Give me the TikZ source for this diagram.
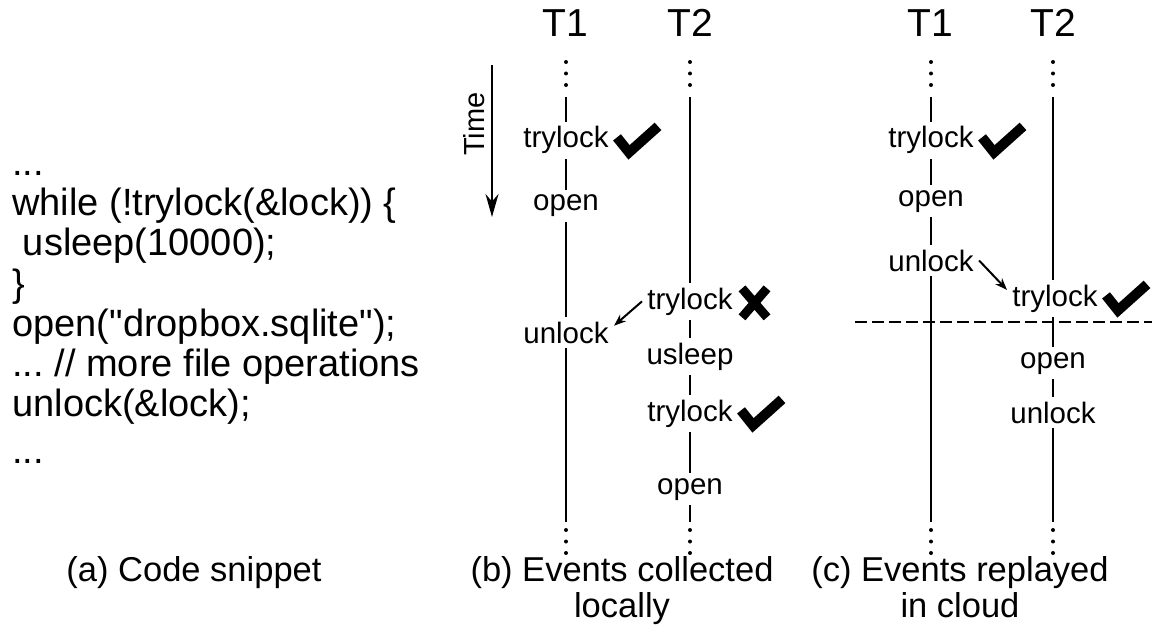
\documentclass[tikz,border=0pt]{standalone}
\usepackage{fontspec}
\setmainfont{Liberation Sans}
\usetikzlibrary{arrows.meta,positioning}

\begin{document}
\frenchspacing
\begin{tikzpicture}[
  x=0.5pt, y=-0.5pt,
  code/.style={font=\fontsize{19}{22}\selectfont, anchor=base west, inner sep=0pt},
  thread/.style={font=\fontsize{19.5}{22}\selectfont, anchor=base, inner sep=0pt},
  event/.style={font=\fontsize{14.75}{17}\selectfont, anchor=base, fill=white, inner sep=2.5pt},
  caption/.style={font=\fontsize{17.25}{18}\selectfont, align=center, anchor=base, inner sep=0pt},
  life/.style={line width=1pt},
  hint/.style={line width=1pt, -{Stealth[length=6pt,width=4.5pt]}},
  okmark/.pic={\draw[line width=5pt, line join=miter] (3,-3) -- (15,12) -- (44,-14);},
  nomark/.pic={\draw[line width=4.5pt] (4,-13) -- (29,16) (29,-13) -- (4,16);}]

  \useasboundingbox (0,0) rectangle (1155,636);

  % (a) code
  \node[code] (c1) at (12,176) {...};
  \node[code] (c2) at (12,216) {while (!trylock(\&lock)) \{};
  \node[code] (c3) at (12,256) {\hspace{5.25pt}usleep(10000);};
  \node[code] (c4) at (12,296) {\}};
  \node[code] (c5) at (12,336) {open(\textquotedbl dropbox.sqlite\textquotedbl);};
  \node[code] (c6) at (12,376) {... // more file operations};
  \node[code] (c7) at (12,416) {unlock(\&lock);};
  \node[code] (c8) at (12,463) {...};

  % life lines with dots
  \foreach \x in {566,690,931,1053} {
    \draw[life] (\x,97) -- (\x,522);
    \foreach \y in {62,73.5,85,530,541.5,553}
      \fill (\x,\y) circle (1pt);
  }

  % time axis
  \coordinate (tstart) at (492,65);
  \coordinate (tend) at (492,217);
  \draw[line width=1pt, -{Stealth[length=11.5pt,width=6.5pt]}] (tstart) -- (tend);
  \node[font=\fontsize{14.5}{17}\selectfont, rotate=90] (time) at (474,124) {Time};

  % (b) events collected locally
  \node[thread] (bT1) at (565,37) {T1};
  \node[thread] (bT2) at (690,37) {T2};
  \node[event] (btry1) at (566,148) {trylock};
  \node[event] (bopen1) at (566,211) {open};
  \node[event] (bunl) at (566,343) {unlock};
  \node[event] (btry2) at (690,309) {trylock};
  \node[event] (bsleep) at (690,364) {usleep};
  \node[event] (btry3) at (690,421) {trylock};
  \node[event] (bopen2) at (690,494) {open};
  \pic at (btry1.east) {okmark};
  \pic at (btry2.east) {nomark};
  \pic at (btry3.east) {okmark};
  \draw[hint] (btry2.west) -- (bunl.8);

  % (c) events replayed in cloud
  \node[thread] (cT1) at (930,37) {T1};
  \node[thread] (cT2) at (1053,37) {T2};
  \node[event] (ctry1) at (931,148) {trylock};
  \node[event] (copen1) at (931,206) {open};
  \node[event] (cunl1) at (931,271) {unlock};
  \node[event] (ctry2) at (1055,306) {trylock};
  \node[event] (copen2) at (1053,368) {open};
  \node[event] (cunl2) at (1053,423) {unlock};
  \pic at (ctry1.east) {okmark};
  \pic at (ctry2.east) {okmark};
  \draw[hint] (cunl1.east) -- (ctry2.170);
  \draw[line width=1pt, dash pattern=on 6pt off 2.5pt] (855,322) -- (1152,322);

  % captions
  \node[caption] (capa) at (194,581) {(a) Code snippet};
  \node[caption] (capb) at (622,617) {(b) Events collected\\locally};
  \node[caption] (capc) at (960,617) {(c) Events replayed\\in cloud};
\end{tikzpicture}
\end{document}
